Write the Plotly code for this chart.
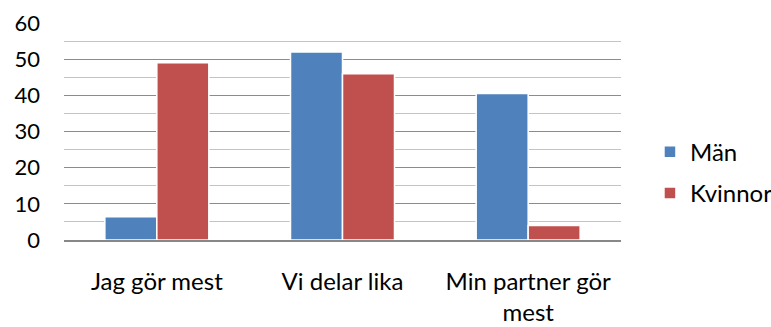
import plotly.graph_objects as go

categories = ["Jag gör mest", "Vi delar lika", "Min partner gör<br>mest"]
man = [6.4, 52, 40.5]
kvinnor = [49, 46, 4]
series_names = ["Män", "Kvinnor"]
colors = ["#4F81BD", "#C0504D"]

font_family = "Lato, 'Open Sans', sans-serif"

fig = go.Figure()
for name, values, color in zip(series_names, [man, kvinnor], colors):
    fig.add_trace(
        go.Bar(
            x=categories,
            y=values,
            name=name,
            legendgroup=name,
            marker={"color": color, "line": {"color": "white", "width": 1.5}},
        )
    )

fig.update_layout(
    width=771,
    height=327,
    margin={"l": 64, "r": 150, "t": 23, "b": 87, "autoexpand": False},
    paper_bgcolor="white",
    plot_bgcolor="white",
    barmode="group",
    bargap=0.44,
    bargroupgap=0.0,
    font={"family": font_family, "color": "black", "size": 24},
    legend={
        "x": 1.052,
        "y": 0.31,
        "xanchor": "left",
        "yanchor": "middle",
        "traceorder": "grouped",
        "tracegroupgap": 7,
        "font": {"size": 24},
        "itemwidth": 30,
    },
    showlegend=True,
)
fig.update_xaxes(
    automargin=False,
    showline=True,
    linecolor="#888888",
    linewidth=1.5,
    tickfont={"size": 24},
    ticklabelstandoff=19,
)
fig.update_yaxes(
    automargin=False,
    range=[0, 60],
    dtick=10,
    showgrid=True,
    gridcolor="#8c8c8c",
    gridwidth=1.2,
    minor={"dtick": 5, "showgrid": True, "gridcolor": "#c4c4c4", "gridwidth": 1},
    zeroline=False,
    tickfont={"size": 22},
    ticklabelstandoff=23,
)

# the page keeps the browser's default body margin otherwise
fig.write_html(
    "out.html",
    config={"displayModeBar": False},
    post_script="document.body.style.margin = '0';",
)
